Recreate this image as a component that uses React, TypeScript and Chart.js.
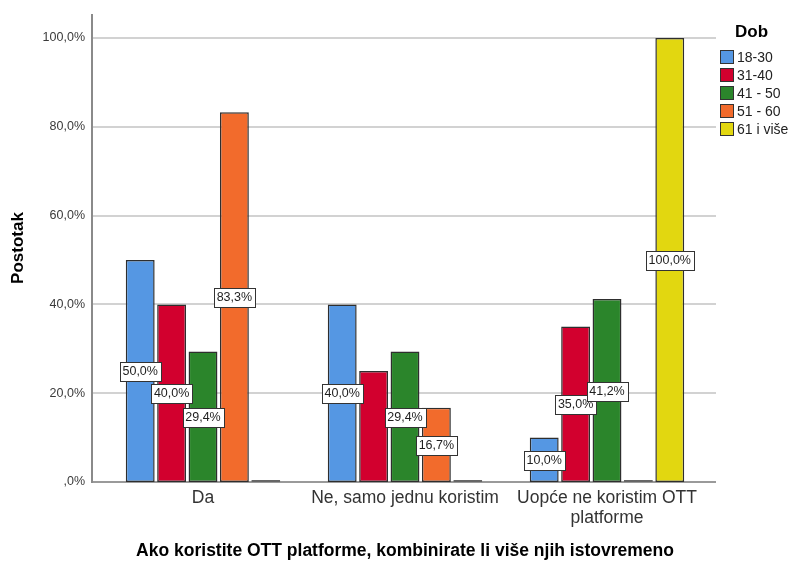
import React, { useEffect, useRef } from 'react';
import { Chart, registerables } from 'chart.js';

Chart.register(...registerables);

const categories: (string | string[])[] = ['Da', 'Ne, samo jednu koristim', ['Uopće ne koristim OTT', 'platforme']];
const seriesNames = ['18-30', '31-40', '41 - 50', '51 - 60', '61 i više'];
const values1830 = [50.0, 40.0, 10.0];
const values3140 = [40.0, 25.0, 35.0];
const values4150 = [29.4, 29.4, 41.2];
const values5160 = [83.3, 16.7, 0];
const values61 = [0, 0, 100.0];
const seriesColors = ['#5597e3', '#d2002e', '#2b852b', '#f26b2c', '#e2d710'];
// [datasetIndex, categoryIndex] pairs whose value label is not shown in the original
const hiddenLabels: [number, number][] = [[1, 1]];
const yTickValues = [0, 20, 40, 60, 80, 100];
const yAxisMax = 105.4;
const legendTitle = 'Dob';
const xTitle = 'Ako koristite OTT platforme, kombinirate li više njih istovremeno';
const yTitle = 'Postotak';

const FONT = "'Liberation Sans', Arial, sans-serif";

const fmt = (v: number) => (v === 0 ? ',0%' : v.toFixed(1).replace('.', ',') + '%');

const decorPlugin = {
  id: 'decor',
  beforeDatasetsDraw(chart: any) {
    const { ctx, chartArea, scales } = chart;
    const y = scales.y;
    const left = chartArea.left - 10;
    const right = chartArea.right + 8;
    ctx.save();
    ctx.strokeStyle = '#d2d2d2';
    ctx.lineWidth = 2;
    yTickValues.forEach((v) => {
      if (v === 0) return;
      const py = Math.round(y.getPixelForValue(v));
      ctx.beginPath();
      ctx.moveTo(left, py);
      ctx.lineTo(right, py);
      ctx.stroke();
    });
    // baseline
    const by = Math.round(y.getPixelForValue(0));
    ctx.strokeStyle = '#9a9a9a';
    ctx.beginPath();
    ctx.moveTo(left, by);
    ctx.lineTo(right, by);
    ctx.stroke();
    // y axis line
    ctx.strokeStyle = '#8a8a8a';
    ctx.beginPath();
    ctx.moveTo(left, chartArea.top);
    ctx.lineTo(left, by + 1);
    ctx.stroke();
    ctx.restore();
  },
  afterDatasetsDraw(chart: any) {
    const { ctx } = chart;
    ctx.save();
    ctx.font = `12.5px ${FONT}`;
    ctx.textAlign = 'center';
    ctx.textBaseline = 'middle';
    chart.data.datasets.forEach((ds: any, di: number) => {
      const meta = chart.getDatasetMeta(di);
      meta.data.forEach((bar: any, i: number) => {
        const v = ds.data[i];
        if (!v) return;
        if (hiddenLabels.some(([a, b]) => a === di && b === i)) return;
        const text = fmt(v);
        const cx = bar.x;
        const cy = Math.round((bar.y + bar.base) / 2);
        const w = Math.ceil(ctx.measureText(text).width) + 5;
        const h = 19;
        const x0 = Math.round(cx - w / 2) + 0.5;
        const y0 = Math.round(cy - h / 2) + 0.5;
        ctx.fillStyle = '#ffffff';
        ctx.fillRect(x0, y0, w, h);
        ctx.strokeStyle = '#333333';
        ctx.lineWidth = 1;
        ctx.strokeRect(x0, y0, w, h);
        ctx.fillStyle = '#1e1e1e';
        ctx.fillText(text, cx, cy + 1);
      });
    });
    // legend
    ctx.textAlign = 'left';
    ctx.fillStyle = '#000';
    ctx.font = `bold 17px ${FONT}`;
    ctx.fillText(legendTitle, 735, 32);
    ctx.font = `14px ${FONT}`;
    seriesNames.forEach((name, i) => {
      const top = 50 + i * 18;
      ctx.fillStyle = seriesColors[i];
      ctx.fillRect(720.5, top + 0.5, 13, 13);
      ctx.strokeStyle = '#333';
      ctx.lineWidth = 1;
      ctx.strokeRect(720.5, top + 0.5, 13, 13);
      ctx.fillStyle = '#222';
      ctx.fillText(name, 737, top + 8);
    });
    ctx.restore();
  },
};

export default function App() {
  const ref = useRef<HTMLCanvasElement>(null);
  useEffect(() => {
    if (!ref.current) return;
    const seriesValues = [values1830, values3140, values4150, values5160, values61];
    const chart = new Chart(ref.current, {
      type: 'bar',
      data: {
        labels: categories as any,
        datasets: seriesValues.map((vals, i) => ({
          label: seriesNames[i],
          data: vals,
          backgroundColor: (c: any) => (c.raw === 0 ? '#666666' : seriesColors[i]),
          borderColor: (c: any) => (c.raw === 0 ? '#666666' : '#2e2e2e'),
          borderWidth: 1.5,
          borderSkipped: false,
          minBarLength: 2,
          categoryPercentage: 0.777,
          barPercentage: 0.92,
        })),
      },
      options: {
        responsive: false,
        animation: false,
        layout: { padding: { left: 0, right: 83, top: 14, bottom: 0 } },
        plugins: { legend: { display: false }, tooltip: { enabled: false } },
        scales: {
          x: {
            grid: { display: false, drawTicks: false },
            border: { display: false },
            ticks: {
              font: { family: FONT, size: 17.5, lineHeight: 1.1 },
              color: '#333333',
              padding: 7,
              maxRotation: 0,
              autoSkip: false,
            },
            title: {
              display: true,
              text: xTitle,
              font: { family: FONT, size: 17.5, weight: 'bold' },
              color: '#000',
              padding: { top: 0, bottom: 0 },
            },
            afterFit: (s: any) => {
              s.height = 80;
              s.paddingTop = 0;
              s.paddingBottom = 0;
              s.paddingLeft = 0;
              s.paddingRight = 0;
            },
          },
          y: {
            min: 0,
            max: yAxisMax,
            grid: { display: false, drawTicks: false },
            border: { display: false },
            ticks: {
              font: { family: FONT, size: 12.5 },
              color: '#3a3a3a',
              padding: 17,
              callback: (v: any) => fmt(Number(v)),
            },
            afterBuildTicks: (s: any) => {
              s.ticks = yTickValues.map((v) => ({ value: v }));
            },
            title: {
              display: true,
              text: yTitle,
              font: { family: FONT, size: 17, weight: 'bold' },
              color: '#000',
              padding: { top: 8, bottom: 0 },
            },
            afterFit: (s: any) => {
              s.width = 102;
              s.paddingTop = 0;
              s.paddingBottom = 0;
              s.paddingLeft = 0;
              s.paddingRight = 0;
            },
          },
        },
      },
      plugins: [decorPlugin],
    } as any);
    return () => chart.destroy();
  }, []);
  return (
    <div style={{ position: 'fixed', left: 0, top: 0, width: 791, height: 562, background: '#fff' }}>
      <canvas ref={ref} width={791} height={562} style={{ width: 791, height: 562 }} />
    </div>
  );
}
